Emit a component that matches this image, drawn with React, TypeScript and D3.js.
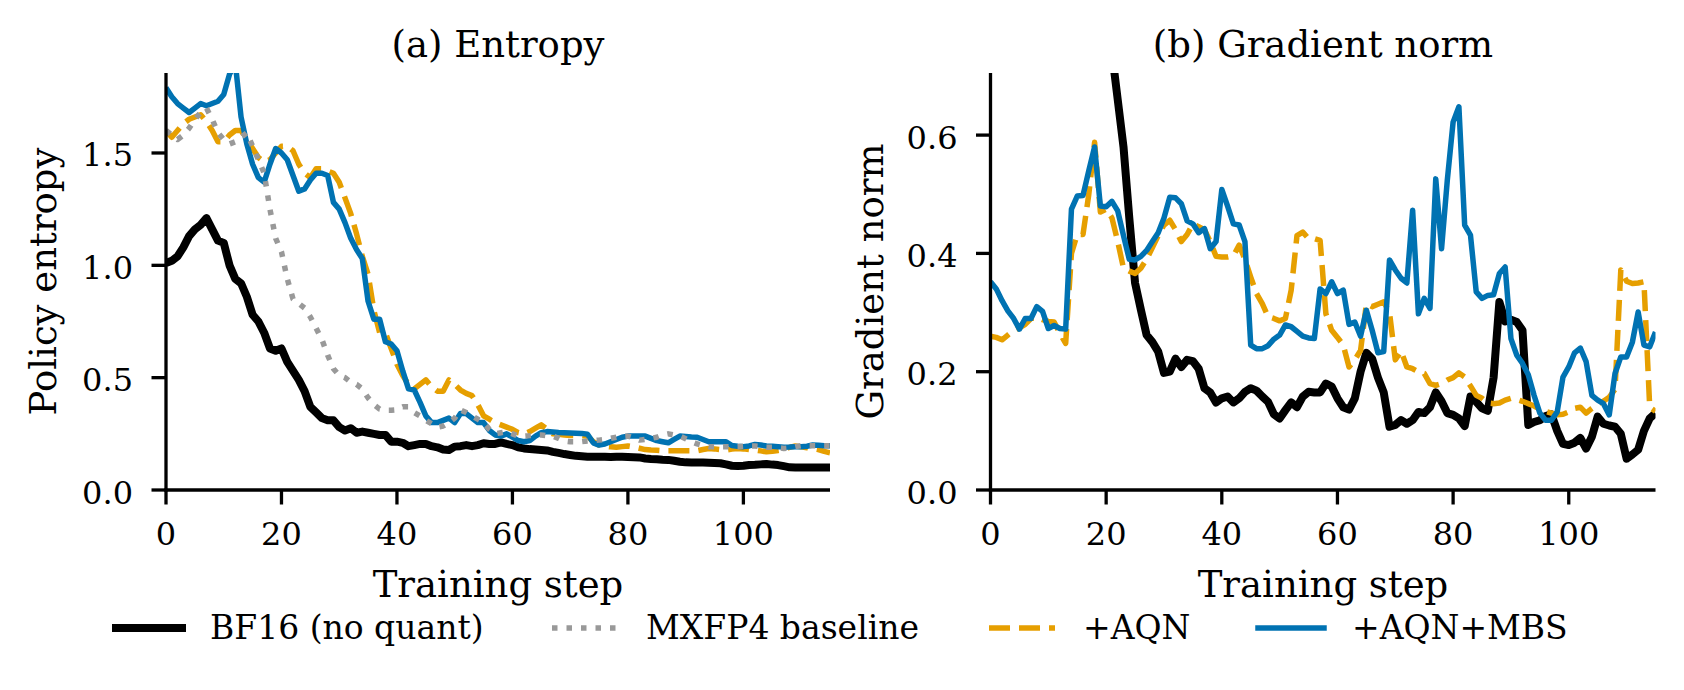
import React from 'react';
import * as d3 from 'd3';

// training steps shared by every curve
const steps = d3.range(116);

// (a) policy entropy per step
const entropyBf16 = [
  1.01, 1.02, 1.04, 1.08, 1.13, 1.16, 1.18, 1.21, 1.16, 1.11,
  1.10, 1.00, 0.94, 0.92, 0.86, 0.78, 0.75, 0.70, 0.63, 0.62,
  0.63, 0.57, 0.53, 0.49, 0.44, 0.37, 0.345, 0.32, 0.31, 0.31,
  0.28, 0.265, 0.275, 0.255, 0.26, 0.255, 0.25, 0.245, 0.245, 0.215,
  0.215, 0.21, 0.195, 0.20, 0.205, 0.205, 0.195, 0.19, 0.18, 0.178,
  0.193, 0.195, 0.20, 0.195, 0.20, 0.208, 0.205, 0.205, 0.212, 0.205,
  0.20, 0.19, 0.185, 0.182, 0.18, 0.178, 0.176, 0.17, 0.165, 0.16,
  0.156, 0.152, 0.15, 0.148, 0.148, 0.148, 0.148, 0.147, 0.148, 0.148,
  0.147, 0.146, 0.145, 0.14, 0.138, 0.137, 0.135, 0.134, 0.13, 0.126,
  0.123, 0.122, 0.122, 0.122, 0.121, 0.12, 0.119, 0.114, 0.108, 0.107,
  0.108, 0.111, 0.112, 0.114, 0.116, 0.113, 0.111, 0.106, 0.101, 0.10,
  0.10, 0.10, 0.10, 0.10, 0.10, 0.10,
];
const entropyMxfp4 = [
  1.60, 1.58, 1.56, 1.58, 1.61, 1.65, 1.68, 1.70, 1.65, 1.59,
  1.56, 1.54, 1.55, 1.57, 1.59, 1.53, 1.47, 1.41, 1.25, 1.12,
  1.06, 0.94, 0.85, 0.83, 0.81, 0.77, 0.72, 0.67, 0.60, 0.54,
  0.51, 0.50, 0.48, 0.47, 0.45, 0.41, 0.38, 0.36, 0.355, 0.355,
  0.357, 0.37, 0.37, 0.345, 0.33, 0.31, 0.295, 0.28, 0.285, 0.30,
  0.32, 0.356, 0.345, 0.33, 0.315, 0.30, 0.27, 0.25, 0.255, 0.26,
  0.25, 0.24, 0.24, 0.242, 0.245, 0.245, 0.242, 0.24, 0.23, 0.218,
  0.215, 0.215, 0.215, 0.218, 0.22, 0.222, 0.225, 0.23, 0.235, 0.238,
  0.24, 0.232, 0.222, 0.225, 0.23, 0.235, 0.245, 0.25, 0.245, 0.24,
  0.228, 0.215, 0.205, 0.198, 0.193, 0.193, 0.193, 0.193, 0.193, 0.193,
  0.195, 0.196, 0.196, 0.194, 0.19, 0.19, 0.188, 0.185, 0.187, 0.193,
  0.197, 0.197, 0.197, 0.197, 0.197, 0.197,
];
const entropyAqn = [
  1.60, 1.57, 1.60, 1.63, 1.65, 1.66, 1.67, 1.64, 1.60, 1.55,
  1.55, 1.58, 1.60, 1.60, 1.56, 1.52, 1.48, 1.46, 1.47, 1.50,
  1.53, 1.53, 1.51, 1.45, 1.41, 1.39, 1.43, 1.43, 1.42, 1.41,
  1.37, 1.30, 1.23, 1.14, 1.04, 0.96, 0.80, 0.70, 0.70, 0.63,
  0.56, 0.51, 0.47, 0.45, 0.47, 0.49, 0.46, 0.44, 0.44, 0.49,
  0.47, 0.445, 0.43, 0.42, 0.38, 0.33, 0.315, 0.30, 0.29, 0.28,
  0.27, 0.255, 0.25, 0.26, 0.275, 0.29, 0.27, 0.25, 0.248, 0.245,
  0.243, 0.242, 0.241, 0.24, 0.215, 0.20, 0.195, 0.192, 0.19, 0.193,
  0.196, 0.192, 0.186, 0.18, 0.178, 0.177, 0.175, 0.175, 0.175, 0.175,
  0.175, 0.175, 0.175, 0.18, 0.185, 0.183, 0.18, 0.178, 0.182, 0.185,
  0.183, 0.18, 0.178, 0.174, 0.17, 0.172, 0.176, 0.18, 0.19, 0.196,
  0.192, 0.188, 0.185, 0.18, 0.172, 0.166,
];
const entropyAqnMbs = [
  1.79, 1.75, 1.72, 1.70, 1.68, 1.70, 1.72, 1.71, 1.72, 1.73,
  1.76, 1.85, 1.90, 1.66, 1.54, 1.45, 1.39, 1.37, 1.45, 1.52,
  1.50, 1.47, 1.40, 1.33, 1.34, 1.38, 1.41, 1.41, 1.40, 1.28,
  1.25, 1.19, 1.12, 1.07, 1.03, 0.84, 0.76, 0.76, 0.66, 0.65,
  0.62, 0.53, 0.45, 0.445, 0.39, 0.33, 0.30, 0.30, 0.31, 0.32,
  0.30, 0.34, 0.34, 0.32, 0.30, 0.30, 0.265, 0.245, 0.24, 0.25,
  0.235, 0.22, 0.215, 0.22, 0.24, 0.255, 0.26, 0.258, 0.256, 0.255,
  0.254, 0.253, 0.252, 0.248, 0.21, 0.20, 0.205, 0.215, 0.225, 0.235,
  0.24, 0.24, 0.24, 0.24, 0.23, 0.22, 0.215, 0.21, 0.225, 0.24,
  0.238, 0.236, 0.235, 0.225, 0.215, 0.215, 0.215, 0.215, 0.198, 0.195,
  0.193, 0.196, 0.203, 0.20, 0.196, 0.195, 0.193, 0.19, 0.191, 0.193,
  0.193, 0.195, 0.20, 0.199, 0.197, 0.197,
];

// (b) gradient norm per step
const gradBf16 = [
  2.10, 2.00, 1.90, 1.80, 1.70, 1.62, 1.55, 1.48, 1.42, 1.36,
  1.30, 1.24, 1.18, 1.12, 1.06, 1.01, 0.96, 0.92, 0.88, 0.84,
  0.80, 0.74, 0.66, 0.58, 0.46, 0.35, 0.305, 0.262, 0.25, 0.234,
  0.198, 0.20, 0.222, 0.208, 0.22, 0.218, 0.205, 0.172, 0.165, 0.148,
  0.155, 0.158, 0.148, 0.155, 0.166, 0.172, 0.168, 0.158, 0.149, 0.128,
  0.121, 0.135, 0.148, 0.14, 0.158, 0.166, 0.165, 0.165, 0.18, 0.175,
  0.155, 0.14, 0.136, 0.155, 0.20, 0.232, 0.222, 0.19, 0.165, 0.107,
  0.11, 0.118, 0.112, 0.118, 0.132, 0.13, 0.14, 0.165, 0.15, 0.13,
  0.127, 0.121, 0.108, 0.158, 0.149, 0.138, 0.134, 0.19, 0.318, 0.285,
  0.288, 0.284, 0.27, 0.11, 0.115, 0.118, 0.125, 0.128, 0.10, 0.078,
  0.076, 0.08, 0.088, 0.07, 0.09, 0.124, 0.112, 0.109, 0.107, 0.095,
  0.053, 0.06, 0.068, 0.10, 0.121, 0.13,
];
const gradAqn = [
  0.26, 0.258, 0.254, 0.262, 0.27, 0.274, 0.28, 0.29, 0.292, 0.288,
  0.285, 0.284, 0.265, 0.248, 0.40, 0.432, 0.432, 0.50, 0.588, 0.47,
  0.475, 0.46, 0.42, 0.375, 0.37, 0.366, 0.375, 0.39, 0.41, 0.43,
  0.448, 0.456, 0.44, 0.42, 0.432, 0.45, 0.445, 0.44, 0.42, 0.395,
  0.394, 0.394, 0.396, 0.414, 0.39, 0.36, 0.332, 0.315, 0.293, 0.29,
  0.286, 0.29, 0.338, 0.43, 0.436, 0.425, 0.425, 0.422, 0.298, 0.27,
  0.258, 0.245, 0.208, 0.22, 0.236, 0.315, 0.31, 0.314, 0.318, 0.30,
  0.22, 0.235, 0.208, 0.205, 0.20, 0.197, 0.18, 0.177, 0.18, 0.186,
  0.19, 0.198, 0.191, 0.176, 0.16, 0.155, 0.147, 0.146, 0.147, 0.152,
  0.155, 0.153, 0.15, 0.146, 0.142, 0.137, 0.133, 0.13, 0.127, 0.128,
  0.132, 0.138, 0.14, 0.13, 0.138, 0.145, 0.15, 0.157, 0.17, 0.372,
  0.353, 0.349, 0.35, 0.352, 0.14, 0.133,
];
const gradAqnMbs = [
  0.352, 0.34, 0.32, 0.303, 0.29, 0.272, 0.29, 0.29, 0.31, 0.302,
  0.273, 0.278, 0.273, 0.272, 0.475, 0.497, 0.498, 0.54, 0.58, 0.48,
  0.479, 0.488, 0.472, 0.43, 0.39, 0.389, 0.395, 0.405, 0.42, 0.435,
  0.46, 0.495, 0.494, 0.484, 0.455, 0.45, 0.435, 0.442, 0.408, 0.42,
  0.508, 0.48, 0.45, 0.448, 0.42, 0.245, 0.239, 0.239, 0.244, 0.255,
  0.262, 0.279, 0.276, 0.268, 0.26, 0.257, 0.256, 0.34, 0.332, 0.352,
  0.332, 0.338, 0.28, 0.284, 0.26, 0.304, 0.27, 0.232, 0.234, 0.389,
  0.372, 0.358, 0.35, 0.473, 0.298, 0.324, 0.307, 0.526, 0.408, 0.524,
  0.622, 0.648, 0.448, 0.431, 0.335, 0.324, 0.329, 0.33, 0.366, 0.377,
  0.256, 0.228, 0.214, 0.195, 0.16, 0.13, 0.118, 0.118, 0.132, 0.191,
  0.208, 0.232, 0.24, 0.217, 0.16, 0.152, 0.146, 0.127, 0.197, 0.225,
  0.225, 0.25, 0.301, 0.245, 0.242, 0.267,
];

const xTicks = [0, 20, 40, 60, 80, 100];
const entropyTicks = [0, 0.5, 1.0, 1.5];
const gradTicks = [0, 0.2, 0.4, 0.6];
const legendLabels = ['BF16 (no quant)', 'MXFP4 baseline', '+AQN', '+AQN+MBS'];

const FONT = '"DejaVu Serif", serif';
const TOP = 73;
const BOTTOM = 490;

const STYLE = {
  bf16: { stroke: '#000000', width: 8, dash: undefined, cap: 'square' },
  mxfp4: { stroke: '#999999', width: 5.5, dash: '5.5 9', cap: 'butt' },
  aqn: { stroke: '#E69F00', width: 5.5, dash: '21 9', cap: 'butt' },
  mbs: { stroke: '#0072B2', width: 5.5, dash: undefined, cap: 'square' },
};

const fmt = d3.format('.1f');

function Panel({ id, x0, x1, yMax, yTicks, title, yLabel, yLabelX, series }) {
  const x = d3.scaleLinear().domain([0, 115]).range([x0, x1]);
  const y = d3.scaleLinear().domain([0, yMax]).range([BOTTOM, TOP]);
  const line = d3
    .line<number>()
    .x((_, i) => x(steps[i]))
    .y((d) => y(d));
  const cx = (x0 + x1) / 2;

  return (
    <g>
      <defs>
        <clipPath id={id}>
          <rect x={x0} y={TOP} width={x1 - x0} height={BOTTOM - TOP} />
        </clipPath>
      </defs>
      <g clipPath={`url(#${id})`}>
        {series.map((s, i) => (
          <path
            key={i}
            d={line(s.values)}
            fill="none"
            stroke={s.style.stroke}
            strokeWidth={s.style.width}
            strokeDasharray={s.style.dash}
            strokeLinejoin="round"
          />
        ))}
      </g>
      {/* axes */}
      <line x1={x0} x2={x0} y1={TOP} y2={BOTTOM + 1.6} stroke="#000" strokeWidth={3.3} />
      <line x1={x0 - 1.6} x2={x1} y1={BOTTOM} y2={BOTTOM} stroke="#000" strokeWidth={3.3} />
      {xTicks.map((t) => (
        <g key={t}>
          <line x1={x(t)} x2={x(t)} y1={BOTTOM} y2={BOTTOM + 14.5} stroke="#000" strokeWidth={3.3} />
          <text x={x(t)} y={545} textAnchor="middle" fontSize={32} fontFamily={FONT}>
            {t}
          </text>
        </g>
      ))}
      {yTicks.map((t) => (
        <g key={t}>
          <line x1={x0 - 14.5} x2={x0} y1={y(t)} y2={y(t)} stroke="#000" strokeWidth={3.3} />
          <text x={x0 - 33} y={y(t) + 13.5} textAnchor="end" fontSize={32} fontFamily={FONT}>
            {fmt(t)}
          </text>
        </g>
      ))}
      <text x={cx} y={57} textAnchor="middle" fontSize={37} fontFamily={FONT}>
        {title}
      </text>
      <text x={cx} y={597} textAnchor="middle" fontSize={37} fontFamily={FONT}>
        Training step
      </text>
      <text
        transform={`translate(${yLabelX},${(TOP + BOTTOM) / 2}) rotate(-90)`}
        textAnchor="middle"
        fontSize={37}
        fontFamily={FONT}
      >
        {yLabel}
      </text>
    </g>
  );
}

function Legend() {
  const styles = [STYLE.bf16, STYLE.mxfp4, STYLE.aqn, STYLE.mbs];
  const starts = [116, 552, 989, 1258];
  return (
    <g>
      {legendLabels.map((label, i) => (
        <g key={label}>
          <line
            x1={starts[i]}
            x2={starts[i] + 66}
            y1={628}
            y2={628}
            stroke={styles[i].stroke}
            strokeWidth={styles[i].width}
            strokeDasharray={styles[i].dash}
            strokeLinecap={styles[i].cap}
          />
          <text x={starts[i] + 94} y={639} fontSize={33} fontFamily={FONT}>
            {label}
          </text>
        </g>
      ))}
    </g>
  );
}

export default function App() {
  const left = [
    { values: entropyBf16, style: STYLE.bf16 },
    { values: entropyAqn, style: STYLE.aqn },
    { values: entropyAqnMbs, style: STYLE.mbs },
    { values: entropyMxfp4, style: STYLE.mxfp4 },
  ];
  const right = [
    { values: gradBf16, style: STYLE.bf16 },
    { values: gradAqn, style: STYLE.aqn },
    { values: gradAqnMbs, style: STYLE.mbs },
  ];
  return (
    <svg
      width={1684}
      height={690}
      style={{ position: 'absolute', left: 0, top: 0, background: '#fff' }}
    >
      <rect width={1684} height={690} fill="#fff" />
      <Panel
        id="clip-entropy"
        x0={166}
        x1={830}
        yMax={1.856}
        yTicks={entropyTicks}
        title="(a) Entropy"
        yLabel="Policy entropy"
        yLabelX={56}
        series={left}
      />
      <Panel
        id="clip-grad"
        x0={990.5}
        x1={1655.5}
        yMax={0.705}
        yTicks={gradTicks}
        title="(b) Gradient norm"
        yLabel="Gradient norm"
        yLabelX={883}
        series={right}
      />
      <Legend />
    </svg>
  );
}
